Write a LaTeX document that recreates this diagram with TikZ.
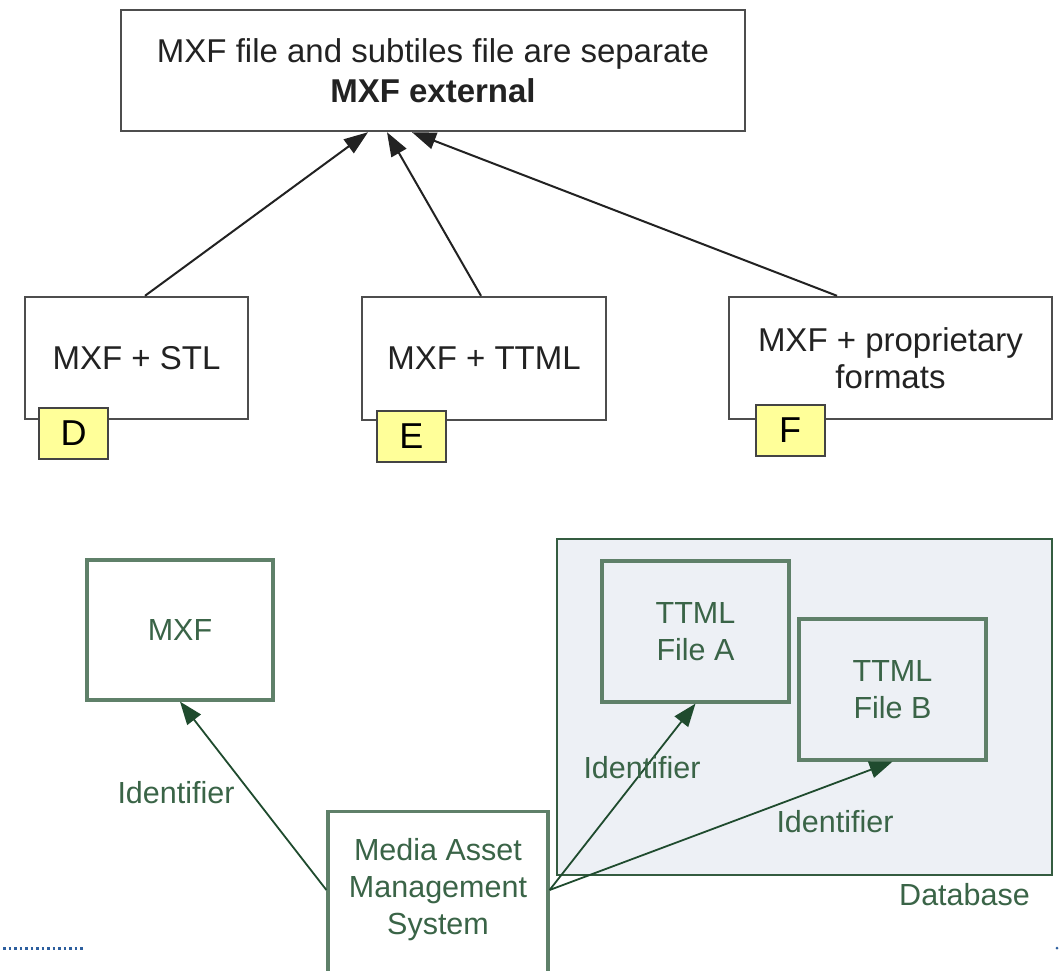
\documentclass[tikz,border=0pt]{standalone}
\usepackage{fontspec}
\setmainfont{Liberation Sans}
\usetikzlibrary{arrows.meta,calc}

\definecolor{toptext}{HTML}{222222}
\definecolor{topline}{HTML}{4D4D4D}
\definecolor{tagfill}{HTML}{FFFF99}
\definecolor{tagline}{HTML}{444444}
\definecolor{gtext}{HTML}{3A6447}
\definecolor{gborder}{HTML}{5F8069}
\definecolor{garrowc}{HTML}{1F4B2E}
\definecolor{dbfill}{HTML}{EDF0F5}
\definecolor{dbline}{HTML}{345C40}
\definecolor{sepblue}{HTML}{2D5F9E}

\begin{document}
\begin{tikzpicture}[x=1pt,y=-1pt,
  topbox/.style={draw=topline, line width=2.4pt, fill=white, inner sep=0pt,
    font=\fontsize{33}{40}\selectfont, text=toptext, align=center},
  tagbox/.style={draw=tagline, fill=tagfill, line width=2pt, minimum width=69pt,
    minimum height=51pt, inner sep=0pt, font=\fontsize{36}{36}\selectfont, text=black},
  toparrow/.style={draw=toptext, line width=2pt, -{Triangle[length=24pt,width=17pt]}},
  gbox/.style={draw=gborder, line width=3.2pt, inner sep=0pt,
    font=\fontsize{30.5}{37}\selectfont, text=gtext, align=center},
  dbbox/.style={draw=dbline, fill=dbfill, line width=2.6pt, inner sep=0pt},
  gtxt/.style={font=\fontsize{30.5}{37}\selectfont, text=gtext, inner sep=0pt, align=center},
  garrow/.style={draw=garrowc, line width=1.8pt, -{Triangle[length=23pt,width=17pt]}},
  sepdots/.style={draw=sepblue, line width=3pt, dash pattern=on 2.5pt off 3pt}
]
\clip (0,0) rectangle (1061,970);
\fill[white] (0,0) rectangle (1061,970);

% ---- upper part: MXF external variants ----
\node[topbox, minimum width=624pt, minimum height=121pt] (ext) at (433,70.5)
  {MXF file and subtiles file are separate\\\textbf{MXF external}};
\node[topbox, minimum width=223pt, minimum height=122pt] (stl) at (136.5,358) {MXF + STL};
\node[topbox, minimum width=244pt, minimum height=123pt] (ttml) at (484,358.5) {MXF + TTML};
\node[topbox, minimum width=323pt, minimum height=122pt, font=\fontsize{33}{37}\selectfont]
  (prop) at (890.5,358) {MXF + proprietary\\formats};

\node[tagbox] (tagD) at (73.5,433) {D};
\node[tagbox] (tagE) at (411.5,436) {E};
\node[tagbox] (tagF) at (790,430) {F};

\draw[toparrow] ([xshift=8.5pt]stl.north) -- ([xshift=-65pt]ext.south);
\draw[toparrow] ([xshift=-3pt]ttml.north) -- ([xshift=-46pt]ext.south);
\draw[toparrow] ([xshift=-53.5pt]prop.north) -- ([xshift=-21pt]ext.south);

% ---- lower part: asset management with identifiers ----
\node[dbbox, minimum width=495pt, minimum height=336pt] (db) at (804.5,707) {};
\node[gtxt, anchor=east] (dblabel) at (1030,895) {Database};

\node[gbox, fill=white, minimum width=186pt, minimum height=140pt] (mxf) at (180,630) {MXF};
\node[gbox, fill=dbfill, minimum width=187pt, minimum height=141pt] (fa) at (695.5,631.5) {TTML\\File A};
\node[gbox, fill=dbfill, minimum width=187pt, minimum height=141pt] (fb) at (892.5,689.5) {TTML\\File B};

\node[gbox, fill=white, minimum width=220pt, minimum height=200pt, anchor=north] (mam) at (438,810) {};
\node[gtxt] (mamtext) at (438,890) {Media Asset\\Management\\System};

\draw[garrow] ($(mam.north west)+(0,80)$) -- (mxf.south);
\draw[garrow] ($(mam.north east)+(0,80)$) -- (fa.south);
\draw[garrow] ($(mam.north east)+(0,80)$) -- (fb.south);

\node[gtxt] (id1) at (176,793) {Identifier};
\node[gtxt] (id2) at (642,768) {Identifier};
\node[gtxt] (id3) at (835,822) {Identifier};

% ---- dotted separator ----
\draw[sepdots] (3,948) -- (84,948);
\fill[sepblue] (1057,948) circle (1.5);
\end{tikzpicture}
\end{document}
